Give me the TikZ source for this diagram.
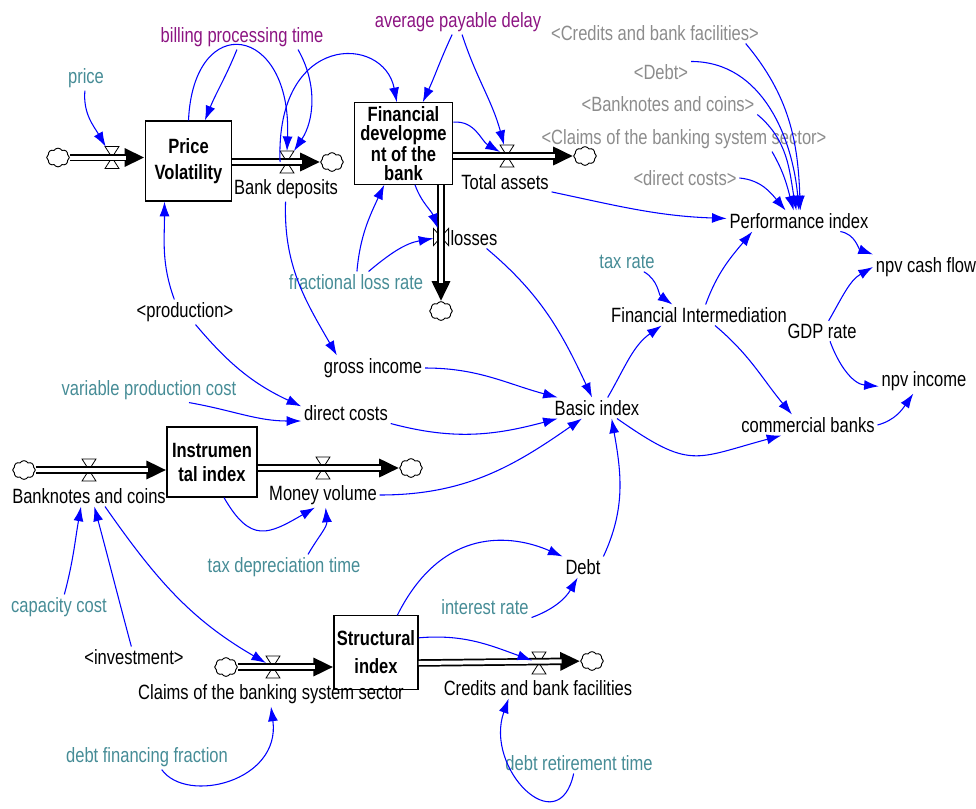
\documentclass[tikz,border=0pt]{standalone}
\usepackage{fontspec}
\setmainfont{Liberation Sans}[FakeStretch=0.8]
\usetikzlibrary{shapes.symbols, arrows.meta}

\definecolor{linkblue}{RGB}{0,0,255}
\definecolor{paramteal}{RGB}{70,140,150}
\definecolor{delaypurple}{RGB}{140,20,130}
\definecolor{ghostgray}{RGB}{140,140,140}
\newcommand{\stockfont}[1]{\fontsize{15.5}{#1}\selectfont\bfseries}

\tikzset{
  stock/.style={draw, fill=white, line width=0.9pt, align=center, inner sep=0pt},
  var/.style={inner sep=2pt},
  param/.style={var, text=paramteal},
  delay/.style={var, text=delaypurple},
  ghost/.style={var, text=ghostgray},
  link/.style={draw=linkblue, line width=0.8pt, -{Latex[length=11pt,width=7.5pt]}},
  pipe/.style={draw=white, line width=3pt, shorten >=14pt,
    preaction={draw=black, line width=5.6pt, shorten >=0pt, -{Triangle[length=15pt,width=13pt]}}},
  sink/.style={cloud, cloud puffs=8, cloud puff arc=120, aspect=1.2, draw, line width=0.7pt,
    minimum width=17pt, minimum height=14pt, inner sep=0pt},
  valve/.style={minimum width=10pt, minimum height=16pt, inner sep=0pt},
  vvalve/.style={minimum width=11pt, minimum height=12.5pt, inner sep=0pt}
}

\begin{document}
\begin{tikzpicture}[x=0.75pt, y=-0.75pt, font=\fontsize{15.5}{16}\selectfont]
    \useasboundingbox (0, 0) rectangle (976, 808);

    % Stocks
    \node[stock, minimum width=65pt, minimum height=60pt, font=\stockfont{20}] (pv) at (188.5, 161) {Price\\Volatility};
    \node[stock, minimum width=74pt, minimum height=61pt, font=\stockfont{14.2}] (fd) at (403.5, 143.5) {Financial\\developme\\nt of the\\bank};
    \node[stock, minimum width=67.5pt, minimum height=52.5pt, font=\stockfont{18}] (ii) at (212, 462) {Instrumen\\tal index};
    \node[stock, minimum width=63pt, minimum height=55pt, font=\stockfont{21}] (si) at (376, 652.5) {Structural\\index};

    % Clouds
    \node[sink] (c1) at (58, 157.5) {};
    \node[sink] (c2) at (332, 162) {};
    \node[sink] (c3) at (585, 156) {};
    \node[sink] (c4) at (441, 311) {};
    \node[sink] (c5) at (24, 470) {};
    \node[sink] (c6) at (411, 468) {};
    \node[sink] (c7) at (226, 667) {};
    \node[sink] (c8) at (592, 661) {};

    % Valves
    \node[valve] (v1) at (112, 157.5) {};
    \node[valve] (v2) at (287, 162) {};
    \node[valve] (v3) at (507, 156) {};
    \node[vvalve] (v4) at (441, 237) {};
    \node[valve] (v5) at (89, 470) {};
    \node[valve] (v6) at (323, 468) {};
    \node[valve] (v7) at (273, 667) {};
    \node[valve] (v8) at (539, 663) {};
    \foreach \v in {v1, v2, v3, v5, v6, v7, v8}
        \draw[fill=white, line width=0.6pt] (\v.north west) -- (\v.north east) -- (\v.south west) -- (\v.south east) -- cycle;
    \draw[fill=white, line width=0.6pt] (v4.north west) -- (v4.south west) -- (v4.north east) -- (v4.south east) -- cycle;

    % Pipes
    \draw[pipe] (c1) -- (v1 -| pv.west);
    \draw[pipe] (v2 -| pv.east) -- (c2);
    \draw[pipe] (v3 -| fd.east) -- (c3);
    \draw[pipe] (v4 |- fd.south) -- (c4);
    \draw[pipe] (c5) -- (v5 -| ii.west);
    \draw[pipe] (v6 -| ii.east) -- (c6);
    \draw[pipe] (c7) -- (v7 -| si.west);
    \draw[pipe] (v8 -| si.east) -- (c8);

    % Flow names
    \node[var] (bd) at (286, 189) {Bank deposits};
    \node[var] (ta) at (505, 182) {Total assets};
    \node[var] (losses) at (474, 238) {losses};
    \node[var] (bc) at (89, 496) {Banknotes and coins};
    \node[var] (mv) at (323, 495) {Money volume};
    \node[var] (cl) at (271, 694) {Claims of the banking system sector};
    \node[var] (cbf) at (538, 688) {Credits and bank facilities};

    % Variables
    \node[param] (price) at (86, 78) {price};
    \node[delay] (bpt) at (242, 37) {billing processing time};
    \node[delay] (apd) at (458, 22) {average payable delay};
    \node[ghost] (scbf) at (655, 33) {<Credits and bank facilities>};
    \node[ghost] (sdebt) at (661, 72) {<Debt>};
    \node[ghost] (sbc) at (668, 104) {<Banknotes and coins>};
    \node[ghost] (scl) at (684, 139) {<Claims of the banking system sector>};
    \node[ghost] (sdc) at (685, 178) {<direct costs>};
    \node[var] (perf) at (799, 221) {Performance index};
    \node[param] (taxr) at (627, 262) {tax rate};
    \node[var] (npvcf) at (926, 267) {npv cash flow};
    \node[var] (fint) at (699, 315) {Financial Intermediation};
    \node[var] (gdp) at (822, 331) {GDP rate};
    \node[var] (npvi) at (924, 381) {npv income};
    \node[var] (comb) at (808, 425) {commercial banks};
    \node[var] (basic) at (597, 408) {Basic index};
    \node[var] (gross) at (373, 368) {gross income};
    \node[var] (dcost) at (346, 413) {direct costs};
    \node[param] (vpc) at (149, 390) {variable production cost};
    \node[var] (prod) at (185, 312) {<production>};
    \node[param] (flr) at (356, 282) {fractional loss rate};
    \node[param] (tdt) at (284, 567) {tax depreciation time};
    \node[var] (debt) at (583, 567) {Debt};
    \node[param] (intr) at (485, 607) {interest rate};
    \node[param] (capc) at (59, 607) {capacity cost};
    \node[var] (inv) at (134, 657) {<investment>};
    \node[param] (dff) at (147, 757) {debt financing fraction};
    \node[param] (drt) at (579, 763) {debt retirement time};

    % Links
    \draw[link] (price) to[out=-95, in=120] (v1);
    \draw[link] (bpt) to[out=-112, in=68] (pv);
    \draw[link] (pv.north) .. controls +(5, -111) and +(5, -127) .. (v2.north);
    \draw[link] ([xshift=42pt]bpt.south) .. controls +(20, 35) and +(20, -30) .. (v2.north east);
    \draw[link] (v2.west) .. controls +(-5, -130) and +(-13, -68) .. ([xshift=-5pt]fd.north);
    \draw[link] (apd) to[out=-115, in=65] (fd);
    \draw[link] (apd) to[out=-72, in=105] (v3);
    \draw[link] ([yshift=16pt]fd.east) to[out=5, in=150] (v3);
    \draw[link] ([xshift=8.6pt]fd.south) to[out=-70, in=110] (v4);
    \draw[link] (flr) to[out=85, in=-115] (fd);
    \draw[link] (flr) to[out=40, in=190] (v4);
    \draw[link] (bd) to[out=-92, in=120] ([xshift=12pt]gross.north west);
    \draw[link] ([xshift=-8pt]prod.north) to[out=110, in=-90] ([xshift=-18pt]pv.south);
    \draw[link] (prod) to[out=-50, in=155] ([yshift=5pt]dcost.west);
    \draw[link] ([xshift=30pt]vpc.south) to[out=-10, in=180] ([yshift=-6pt]dcost.west);
    \draw[link] (gross.east) to[out=0, in=165] (basic);
    \draw[link] (dcost.south east) to[out=-15, in=195] (basic);
    \draw[link] (mv.east) to[out=0, in=215] (basic);
    \draw[link] (losses) to[out=-40, in=115] (basic);
    \draw[link] (debt.north east) to[out=65, in=-80] ([xshift=11pt]basic.south);
    \draw[link] (ta) to[out=-12, in=178] (perf);
    \draw[link] ([xshift=68pt]scbf.south) to[out=-50, in=92] ([xshift=1pt]perf.north);
    \draw[link] (sdebt.north east) to[out=0, in=95] (perf.north);
    \draw[link] (sbc.south east) to[out=-40, in=100] ([xshift=-2pt]perf.north);
    \draw[link] ([xshift=66pt]scl.south) to[out=-60, in=105] ([xshift=-4pt]perf.north);
    \draw[link] (sdc.east) to[out=-5, in=130] ([xshift=-10pt]perf.north);
    \draw[link] (taxr) to[out=-30, in=145] ([xshift=-20pt]fint.north);
    \draw[link] ([xshift=5pt]fint.north) to[out=70, in=230] ([xshift=-35pt]perf.south);
    \draw[link] ([xshift=31pt]perf.south) to[out=-10, in=160] (npvcf.north west);
    \draw[link] ([xshift=5pt]gdp.north) to[out=60, in=210] (npvcf.west);
    \draw[link] ([xshift=6pt]gdp.south) to[out=-70, in=175] ([yshift=-4pt]npvi.west);
    \draw[link] ([xshift=8pt]basic.north) to[out=60, in=215] ([xshift=-28pt]fint.south);
    \draw[link] ([xshift=12pt]fint.south) to[out=-40, in=130] ([xshift=-12pt]comb.north);
    \draw[link] ([xshift=15pt]basic.south) to[out=-35, in=195, looseness=1.4] ([xshift=-20pt]comb.south);
    \draw[link] (comb.east) to[out=15, in=235] ([xshift=-8pt]npvi.south);
    \draw[link] ([xshift=9pt]ii.south) to[out=-60, in=210, looseness=1.5] ([xshift=-6pt]mv.south);
    \draw[link] ([xshift=18pt]tdt.north) to[out=60, in=-85] ([xshift=2pt]mv.south);
    \draw[link] ([xshift=4pt]capc.north) to[out=75, in=-100] ([xshift=-6pt]bc.south);
    \draw[link] ([xshift=-2pt]inv.north) to[out=105, in=-75] ([xshift=4pt]bc.south);
    \draw[link] ([xshift=12pt]bc.south) to[out=-55, in=150] (v7);
    \draw[link] ([xshift=16pt]si.north) .. controls +(45, -90) and +(-50, -22) .. (debt.north west);
    \draw[link] (intr.south east) to[out=20, in=-120] ([xshift=-4pt]debt.south);
    \draw[link] ([yshift=11pt]si.east) to[out=5, in=160] (v8);
    \draw[link] ([xshift=11pt]dff.south) .. controls +(25, 35) and +(10, 75) .. (cl.south);
    \draw[link] ([xshift=-4pt]drt.south) .. controls +(-15, 70) and +(-25, 70) .. ([xshift=-22pt]cbf.south);
\end{tikzpicture}
\end{document}
